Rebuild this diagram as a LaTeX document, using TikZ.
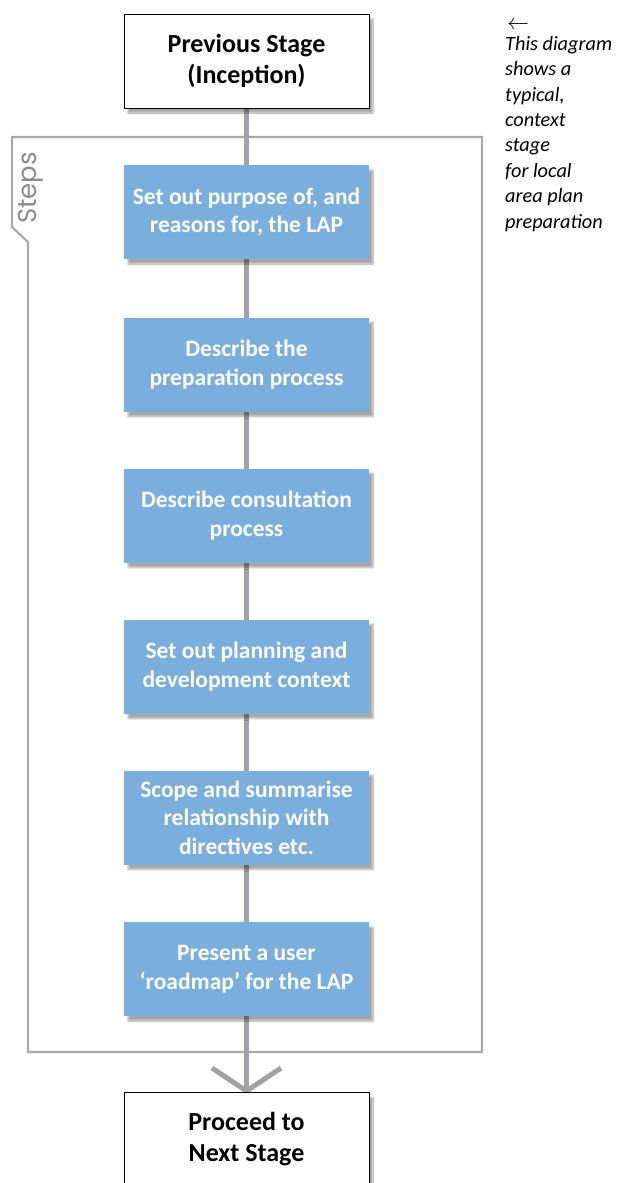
\documentclass[tikz,border=0pt]{standalone}
\usepackage{fontspec}
\setmainfont{Carlito}
\newfontfamily\stepsfont{Poppins}
\usetikzlibrary{shadows,shadows.blur}
\definecolor{stepblue}{HTML}{7AAEDD}
\definecolor{linegray}{HTML}{A2A2A6}
\definecolor{framegray}{HTML}{ABABAB}
\definecolor{labelgray}{HTML}{8C8C8C}
\tikzset{
  x=1pt, y=-1pt,
  stepbox/.style={fill=stepblue, minimum width=245pt, minimum height=94pt, inner sep=0pt,
    align=center, text=white, font=\fontsize{23.5}{28.5}\selectfont\bfseries,
    blur shadow={shadow xshift=4pt, shadow yshift=-5pt, shadow blur steps=8, shadow opacity=35}},
  stagebox/.style={fill=white, draw=black, line width=1pt, minimum width=245pt, minimum height=94pt, inner sep=0pt,
    align=center, text=black, font=\fontsize{26}{31}\selectfont\bfseries,
    blur shadow={shadow xshift=4pt, shadow yshift=-5pt, shadow blur steps=8, shadow opacity=35}},
  flow/.style={draw=linegray, line width=5pt},
  framestyle/.style={draw=framegray, line width=2.2pt},
}
\begin{document}
\begin{tikzpicture}
\useasboundingbox (0,0) rectangle (618,1183);
% frame
\draw[framestyle] (12,137) -- (482,137) -- (482,1052) -- (28,1052) -- (28,242) -- (12,227) -- cycle;
\node[rotate=90, text=labelgray, font=\stepsfont\fontsize{26}{26}\selectfont, anchor=center] (stepslabel) at (31,188) {Steps};
% connector
\coordinate (tip) at (246.5,1091);
\coordinate (la) at (212,1068);
\coordinate (ra) at (281,1068);
\draw[flow] (246.5,100) -- (tip);
\draw[flow, line cap=butt] (la) -- (tip) -- (ra);
% boxes
\node[stagebox] (prev) at (246.5,61) {Previous Stage\\(Inception)};
\node[stepbox] (s1) at (246.5,212) {Set out purpose of, and\\reasons for, the LAP};
\node[stepbox] (s2) at (246.5,364.5) {Describe the\\preparation process};
\node[stepbox] (s3) at (246.5,515.5) {Describe consultation\\process};
\node[stepbox] (s4) at (246.5,666.5) {Set out planning and\\development context};
\node[stepbox] (s5) at (246.5,817.5) {Scope and summarise\\relationship with\\directives etc.};
\node[stepbox] (s6) at (246.5,969) {Present a user\\‘roadmap’ for the LAP};
\node[stagebox, minimum height=110pt, anchor=north] (next) at (246.5,1092) {};
\node[font=\fontsize{26}{31}\selectfont\bfseries, align=center] (nexttext) at (246.5,1139) {Proceed to\\Next Stage};
% note
\node[anchor=west, inner sep=0pt] (arrow) at (507,25) {\scalebox{2.2}{$\leftarrow$}};
\node[anchor=north west, inner sep=0pt, align=left, font=\fontsize{20.3}{25.4}\selectfont\itshape] (note) at (505,36)
 {This diagram\\shows a\\typical,\\context\\stage\\for local\\area plan\\preparation};
\end{tikzpicture}
\end{document}
